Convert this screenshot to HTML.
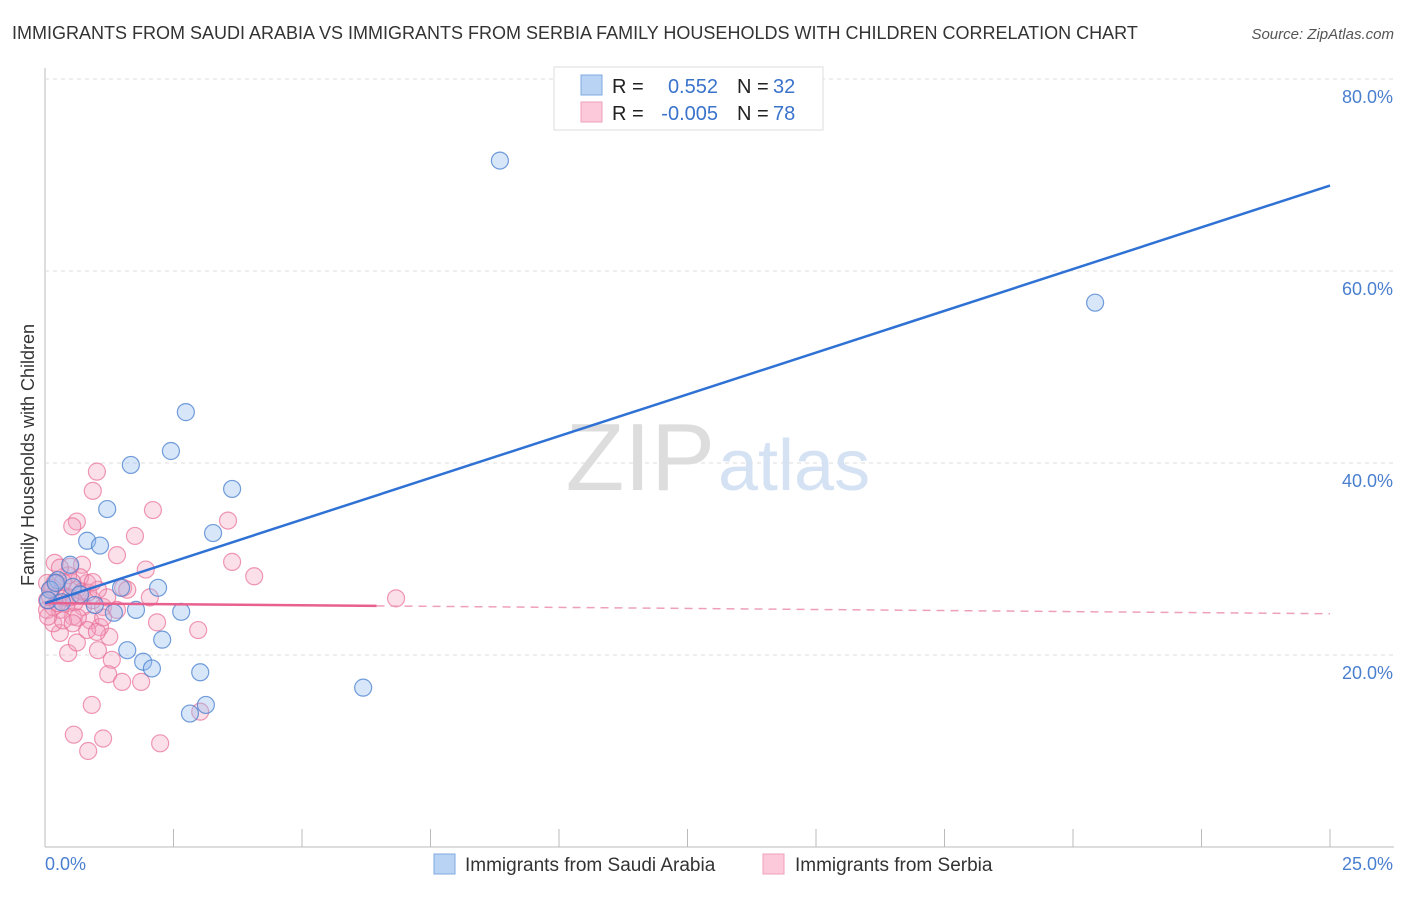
<!DOCTYPE html>
<html><head><meta charset="utf-8"><style>
body{margin:0;background:#fff;font-family:"Liberation Sans",sans-serif;}
svg text{font-family:"Liberation Sans",sans-serif;}
</style></head><body>
<svg id="chart" width="1406" height="892" xmlns="http://www.w3.org/2000/svg">
<text x="12" y="39" font-size="18" fill="#333">IMMIGRANTS FROM SAUDI ARABIA VS IMMIGRANTS FROM SERBIA FAMILY HOUSEHOLDS WITH CHILDREN CORRELATION CHART</text>
<text x="1394" y="39" font-size="15" fill="#555" font-style="italic" text-anchor="end">Source: ZipAtlas.com</text>
<g id="grid"></g>
<text x="715" y="490" font-size="96" fill="#ddd" text-anchor="end" font-family="Liberation Serif">ZIP</text>
<text x="718" y="490" font-size="72" fill="#d4e2f4">atlas</text>
<text transform="translate(34,455) rotate(-90)" font-size="18" fill="#333" text-anchor="middle">Family Households with Children</text>
<g id="pts"></g>
<g id="lines"></g>
<g>
<rect x="554" y="67" width="269" height="63" fill="#fff" stroke="#ddd"/>
<rect x="581" y="75" width="21" height="20" fill="#b9d3f5" stroke="#7fa8e0"/>
<rect x="581" y="102" width="21" height="20" fill="#fbc9d9" stroke="#f0a0bb"/>
<text x="612" y="93" font-size="20" fill="#222">R = </text><text x="718" y="93" font-size="20" fill="#3a73cc" text-anchor="end">0.552</text>
<text x="737" y="93" font-size="20" fill="#222">N = </text><text x="773" y="93" font-size="20" fill="#3a73cc">32</text>
<text x="612" y="120" font-size="20" fill="#222">R = </text><text x="718" y="120" font-size="20" fill="#3a73cc" text-anchor="end">-0.005</text>
<text x="737" y="120" font-size="20" fill="#222">N = </text><text x="773" y="120" font-size="20" fill="#3a73cc">78</text>
</g>
<g>
<rect x="434" y="854" width="21" height="20" fill="#b9d3f5" stroke="#7fa8e0"/>
<text x="465" y="871" font-size="19" fill="#333">Immigrants from Saudi Arabia</text>
<rect x="763" y="854" width="21" height="20" fill="#fbc9d9" stroke="#f0a0bb"/>
<text x="795" y="871" font-size="19" fill="#333">Immigrants from Serbia</text>
</g>
</svg>
<script>
const xTicks=[0,2.5,5,7.5,10,12.5,15,17.5,20,22.5,25];
const yTicks=[20,40,60,80];
const yTickLabels=["20.0%","40.0%","60.0%","80.0%"];
const xEndLabels=["0.0%","25.0%"];
const saudiX=[8.85,20.43,2.74,2.45,1.67,3.64,1.21,3.27,0.82,1.07,0.49,0.25,0.10,0.06,1.48,2.20,1.77,1.34,2.65,2.28,1.60,1.91,2.08,3.02,6.19,3.13,2.82,0.21,0.54,0.97,0.33,0.68];
const saudiY=[71.5,56.7,45.3,41.25,39.8,37.3,35.2,32.7,31.9,31.4,29.4,27.8,26.8,25.7,27.0,27.0,24.7,24.4,24.5,21.6,20.5,19.3,18.6,18.2,16.6,14.8,13.9,27.5,27.1,25.2,25.5,26.3];
const serbiaX=[1.01,0.93,0.62,0.53,2.10,1.75,1.40,3.56,3.64,4.07,6.83,1.96,0.19,0.72,0.49,0.82,1.52,2.04,2.18,2.98,0.29,0.45,0.62,1.03,1.25,1.30,1.23,1.50,1.87,3.02,0.91,0.56,1.13,0.84,2.24,0.16,0.04,0.10,0.29,0.43,0.74,0.88,1.07,0.54,0.29,0.04,0.23,0.62,0.93,1.13,0.82,1.01,0.68,0.53,0.16,0.10,0.39,1.21,1.40,0.35,0.19,0.04,0.45,0.72,0.84,1.03,0.58,0.25,0.14,0.49,1.13,0.64,0.35,0.29,0.93,1.60,0.54,0.06];
const serbiaY=[39.1,37.1,33.9,33.4,35.1,32.4,30.4,34.0,29.7,28.2,25.9,28.9,29.6,29.4,29.2,27.5,27.0,26.0,23.4,22.6,22.3,20.2,21.3,20.5,21.9,19.5,18.0,17.2,17.2,14.1,14.8,11.7,11.3,10.0,10.8,23.3,24.7,26.8,26.5,25.4,25.0,23.6,22.9,24.0,24.7,25.7,27.5,26.8,25.7,25.0,22.6,22.4,28.1,27.6,25.0,26.0,26.0,26.0,24.7,23.6,27.6,27.5,28.3,26.6,26.5,26.8,25.5,25.4,27.0,26.0,23.9,23.9,27.6,29.1,27.6,26.8,23.3,24.0];
const saudiFit=[25.4,68.9];
const serbiaFit=[25.4,24.3];
const serbiaSolidEnd=6.45;

const X=v=>45+v/25*1285;
const Y=v=>847-v/20*192;
const NS="http://www.w3.org/2000/svg";
function mk(tag,attrs,parent){const e=document.createElementNS(NS,tag);for(const k in attrs)e.setAttribute(k,attrs[k]);parent.appendChild(e);return e;}
const grid=document.getElementById('grid'),pts=document.getElementById('pts'),lines=document.getElementById('lines');
const ax=mk('line',{x1:45,y1:68,x2:45,y2:847,stroke:'#bbb'},grid);


const bx=mk('line',{x1:45,y1:847,x2:1394,y2:847,stroke:'#bbb'},grid);


yTicks.forEach((t,i)=>{
 const g=mk('line',{x1:45,y1:Y(t),x2:1394,y2:Y(t),stroke:'#ddd','stroke-dasharray':'4,4'},grid);
 
 
 const l=mk('text',{x:1393,y:Y(t)+24,'font-size':18,fill:'#4a7fd0','text-anchor':'end'},grid);
 l.textContent=yTickLabels[i];
 
 
});
xTicks.forEach(t=>{
 const k=mk('line',{x1:X(t),y1:829,x2:X(t),y2:847,stroke:'#bbb'},grid);
 
 
});
const xl0=mk('text',{x:45,y:870,'font-size':18,fill:'#4a7fd0'},grid);xl0.textContent=xEndLabels[0];


const xl1=mk('text',{x:1393,y:870,'font-size':18,fill:'#4a7fd0','text-anchor':'end'},grid);xl1.textContent=xEndLabels[1];


serbiaX.forEach((v,i)=>{
 const c=mk('circle',{cx:X(v),cy:Y(serbiaY[i]),r:8.5,fill:'rgba(244,160,190,0.32)',stroke:'rgba(232,110,150,0.7)','stroke-width':1.2},pts);
 
 
});
saudiX.forEach((v,i)=>{
 const c=mk('circle',{cx:X(v),cy:Y(saudiY[i]),r:8.5,fill:'rgba(150,190,238,0.38)',stroke:'rgba(70,125,205,0.75)','stroke-width':1.2},pts);
 
 
});
const sy=x=>serbiaFit[0]+(serbiaFit[1]-serbiaFit[0])*x/25;
const l1=mk('line',{x1:X(0),y1:Y(serbiaFit[0]),x2:X(serbiaSolidEnd),y2:Y(sy(serbiaSolidEnd)),stroke:'#e8608e','stroke-width':2.5},lines);


const l2=mk('line',{x1:X(serbiaSolidEnd),y1:Y(sy(serbiaSolidEnd)),x2:X(25),y2:Y(serbiaFit[1]),stroke:'#eea0bb','stroke-width':1.5,'stroke-dasharray':'8,6'},lines);


const l3=mk('line',{x1:X(0),y1:Y(saudiFit[0]),x2:X(25),y2:Y(saudiFit[1]),stroke:'#2f72d4','stroke-width':2.5},lines);


</script>
</body></html>
